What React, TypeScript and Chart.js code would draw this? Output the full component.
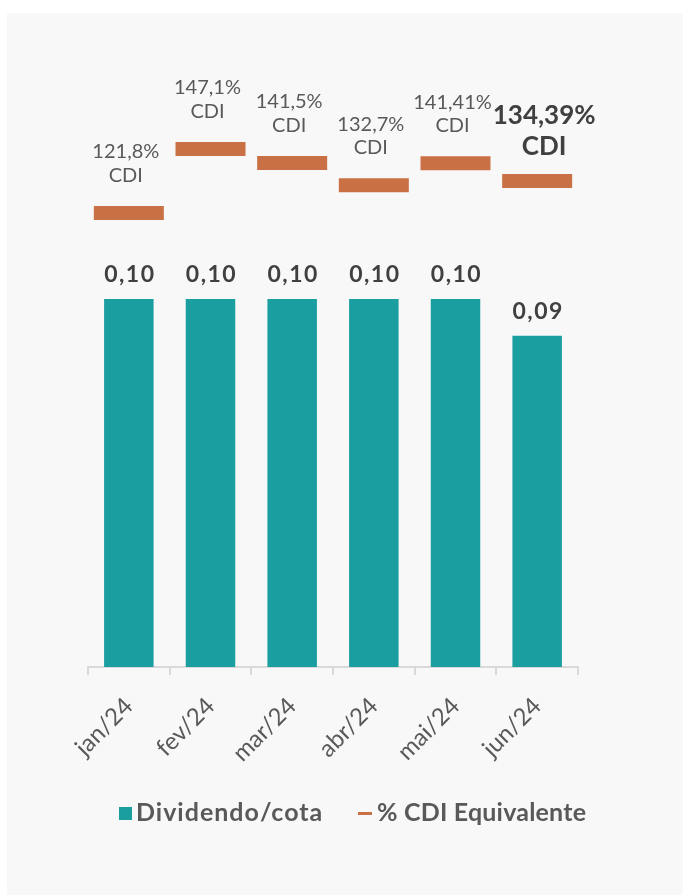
import React, { useEffect, useRef } from 'react';
import { Chart, registerables } from 'chart.js';

Chart.register(...registerables);

const months = ['jan/24', 'fev/24', 'mar/24', 'abr/24', 'mai/24', 'jun/24'];
const dividendPerShare = [0.1, 0.1, 0.1, 0.1, 0.1, 0.09];
const cdiPercent = [121.8, 147.1, 141.5, 132.7, 141.41, 134.39];
const highlightIndex = 5;
const seriesNames = ['Dividendo/cota', '% CDI Equivalente'];

const TEAL = '#1b9e9f';
const ORANGE = '#c97045';
const FONT = 'Lato, "Open Sans", sans-serif';

const fmtDiv = (v: number) => v.toFixed(2).replace('.', ',');
const fmtCdi = (v: number) => String(v).replace('.', ',') + '%';

const labelPlugin = {
  id: 'valueLabels',
  afterDatasetsDraw(chart: any) {
    const ctx = chart.ctx as CanvasRenderingContext2D;
    ctx.save();
    ctx.textAlign = 'center';
    ctx.textBaseline = 'alphabetic';
    const barMeta = chart.getDatasetMeta(0);
    ctx.fillStyle = '#404040';
    ctx.font = `bold 23px ${FONT}`;
    (ctx as any).letterSpacing = '1.5px';
    barMeta.data.forEach((el: any, i: number) => {
      ctx.fillText(fmtDiv(dividendPerShare[i]), el.x + 1, el.y - 17);
    });
    (ctx as any).letterSpacing = '0px';
    const lineMeta = chart.getDatasetMeta(1);
    lineMeta.data.forEach((el: any, i: number) => {
      const hi = i === highlightIndex;
      ctx.font = hi ? `bold 26px ${FONT}` : `20px ${FONT}`;
      ctx.fillStyle = hi ? '#404040' : '#595959';
      const base = el.y - (hi ? 26 : 31);
      const lh = hi ? 31 : 23.7;
      const x = el.x + (hi ? 7 : -3);
      ctx.fillText('CDI', x, base);
      ctx.fillText(fmtCdi(cdiPercent[i]), x, base - lh);
    });
    ctx.restore();
  },
};

const legendPlugin = {
  id: 'customLegend',
  afterDraw(chart: any) {
    const ctx = chart.ctx as CanvasRenderingContext2D;
    const ds = chart.data.datasets;
    ctx.save();
    ctx.font = `bold 25px ${FONT}`;
    ctx.textBaseline = 'alphabetic';
    ctx.textAlign = 'left';
    const baseline = 808;
    // item 1: square
    ctx.fillStyle = ds[0].backgroundColor;
    ctx.fillRect(112, 794, 13, 13);
    ctx.fillStyle = '#595959';
    (ctx as any).letterSpacing = '1px';
    ctx.fillText(ds[0].label, 129, baseline);
    // item 2: dash
    ctx.fillStyle = ds[1].borderColor;
    ctx.fillRect(351, 799, 14, 3);
    ctx.fillStyle = '#595959';
    (ctx as any).letterSpacing = '0.2px';
    ctx.fillText(ds[1].label, 370, baseline);
    ctx.restore();
  },
};

export default function App() {
  const canvasRef = useRef<HTMLCanvasElement | null>(null);

  useEffect(() => {
    const canvas = canvasRef.current;
    if (!canvas) return;
    const chart = new Chart(canvas, {
      type: 'bar',
      data: {
        labels: months,
        datasets: [
          {
            type: 'bar',
            label: seriesNames[0],
            data: dividendPerShare,
            backgroundColor: TEAL,
            borderWidth: 0,
            yAxisID: 'y',
            categoryPercentage: 1,
            barPercentage: 0.606,
            order: 2,
          } as any,
          {
            type: 'line',
            label: seriesNames[1],
            data: cdiPercent,
            yAxisID: 'y2',
            showLine: false,
            pointStyle: 'line',
            pointRadius: 35,
            pointHoverRadius: 35,
            pointBorderWidth: 14,
            pointHoverBorderWidth: 14,
            borderColor: ORANGE,
            pointBorderColor: ORANGE,
            backgroundColor: ORANGE,
            order: 1,
          } as any,
        ],
      },
      options: {
        responsive: false,
        animation: false,
        devicePixelRatio: 1,
        events: [],
        layout: { padding: { left: 81, right: 105, top: 57, bottom: 0 } },
        plugins: {
          legend: { display: false },
          tooltip: { enabled: false },
        },
        scales: {
          x: {
            offset: true,
            grid: {
              display: true,
              offset: true,
              drawOnChartArea: false,
              drawTicks: true,
              tickLength: 8,
              color: '#d9d9d9',
              lineWidth: 2,
            },
            border: { display: true, color: '#d9d9d9', width: 2 },
            ticks: {
              color: '#595959',
              font: { family: FONT, size: 24 },
              minRotation: 45,
              maxRotation: 45,
              autoSkip: false,
              padding: 17,
            },
            afterFit: (s: any) => {
              s.height = 228;
            },
          } as any,
          y: { display: false, min: 0, max: (0.1 * 597) / 368 },
          y2: { display: false, position: 'right', min: -57.68, max: 178.29 },
        },
      },
      plugins: [labelPlugin, legendPlugin],
    });
    return () => chart.destroy();
  }, []);

  return (
    <div
      style={{
        position: 'fixed',
        left: 7,
        top: 13,
        width: 676,
        height: 882,
        background: '#f8f8f8',
      }}
    >
      <canvas ref={canvasRef} width={676} height={882} style={{ display: 'block', width: 676, height: 882 }} />
    </div>
  );
}
